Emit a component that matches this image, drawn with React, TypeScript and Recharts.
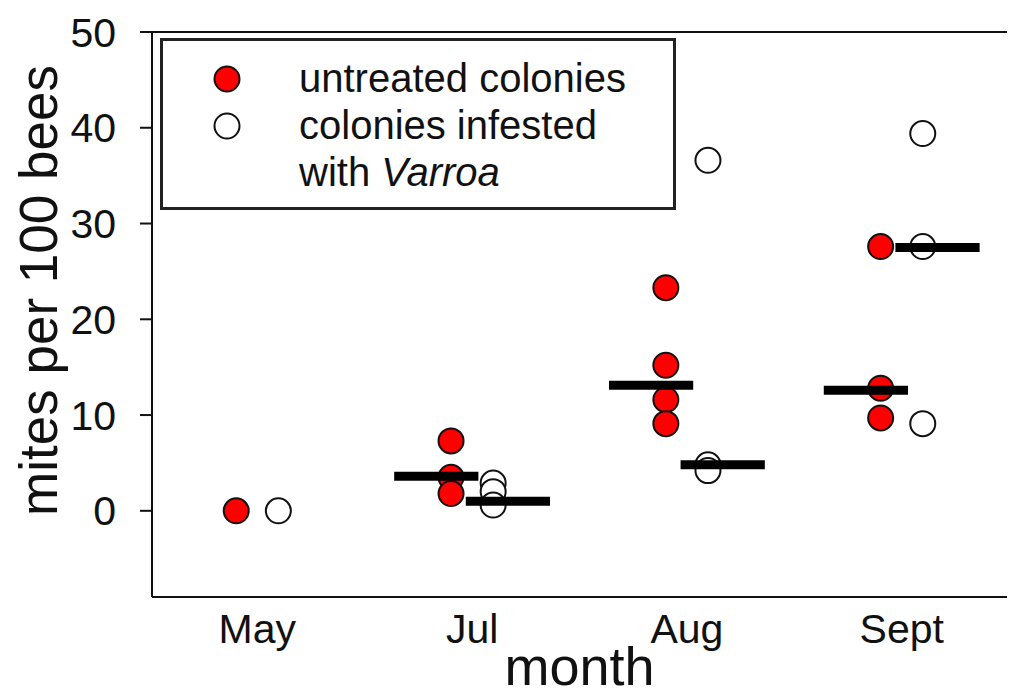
import React from 'react';
import {
  ScatterChart,
  Scatter,
  XAxis,
  YAxis,
  ReferenceLine,
  Legend,
  Label,
} from 'recharts';

// month groups and where they sit on the numeric x axis
const months = ['May', 'Jul', 'Aug', 'Sept'];
const groupPos = [1, 2.02, 3.04, 4.06];

// mites per 100 bees, one list per month
const untreated = [[0], [7.3, 3.5, 1.8], [23.3, 15.2, 11.6, 9.1], [27.6, 12.8, 9.7]];
const infested = [[0], [2.9, 2.0, 0.6], [36.6, 4.8, 4.2], [39.4, 27.6, 9.1]];

// medians (no bar drawn for May)
const untreatedMedian = [null, 3.6, 13.1, 12.6];
const infestedMedian = [null, 1.0, 4.8, 27.5];

const yTicks = [0, 10, 20, 30, 40, 50];
const yDomain = [-9, 50];

const FONT = '"Liberation Sans", Arial, sans-serif';
const PT_OFF = 0.1;
const BAR_OFF = 0.17;
const BAR_HALF = 0.2;

const toPoints = (groups: number[][], off: number) =>
  groups.flatMap((vals, i) => vals.map((v) => ({ x: groupPos[i] + off, y: v })));

const untreatedPts = toPoints(untreated, -PT_OFF);
const infestedPts = toPoints(infested, PT_OFF);

// each median becomes a short two-point segment
const medianSegs = (meds: (number | null)[], off: number) =>
  meds
    .map((m, i) =>
      m === null
        ? null
        : [
            { x: groupPos[i] + off - BAR_HALF, y: m },
            { x: groupPos[i] + off + BAR_HALF, y: m },
          ]
    )
    .filter(Boolean) as { x: number; y: number }[][];

const medians = [...medianSegs(untreatedMedian, -BAR_OFF), ...medianSegs(infestedMedian, BAR_OFF)];

const dot = (fill: string) => (props: any) => (
  <circle cx={props.cx} cy={props.cy} r={12.5} fill={fill} stroke="#111" strokeWidth={2} />
);

const LegendBox = () => (
  <div
    style={{
      boxSizing: 'border-box',
      width: 516,
      height: 172,
      border: '3px solid #222',
      background: '#fff',
      fontFamily: FONT,
      fontSize: 40,
      lineHeight: '47px',
      paddingTop: 14,
      color: '#111',
    }}
  >
    {[
      { fill: '#ff0000', lines: ['untreated colonies'] },
      { fill: '#ffffff', lines: ['colonies infested', 'with '] },
    ].map((item, idx) => (
      <div key={idx} style={{ display: 'flex', alignItems: 'flex-start' }}>
        <div style={{ width: 128, height: 47, display: 'flex', justifyContent: 'center', alignItems: 'center' }}>
          <svg width={30} height={30}>
            <circle cx={15} cy={15} r={12.5} fill={item.fill} stroke="#111" strokeWidth={2} />
          </svg>
        </div>
        <div style={{ marginLeft: 8 }}>
          {item.lines.map((l, j) => (
            <div key={j}>
              {l}
              {idx === 1 && j === 1 ? <i>Varroa</i> : null}
            </div>
          ))}
        </div>
      </div>
    ))}
  </div>
);

export default function App() {
  return (
    <div style={{ position: 'absolute', left: 0, top: 0, width: 1024, height: 697, background: '#fff' }}>
      <ScatterChart width={1024} height={697} margin={{ top: 32, right: 17, bottom: 0, left: 0 }}>
        <XAxis
          type="number"
          dataKey="x"
          domain={[0.5, 4.56]}
          ticks={groupPos}
          tickFormatter={(v: number) => months[groupPos.indexOf(v)] ?? ''}
          allowDataOverflow
          height={100}
          tickLine={false}
          tickMargin={11}
          axisLine={{ stroke: '#111', strokeWidth: 2 }}
          tick={{ fill: '#111', fontSize: 41, fontFamily: FONT }}
          interval={0}
        >
          <Label
            content={({ viewBox }: any) => (
              <text
                x={viewBox.x + viewBox.width / 2}
                y={viewBox.y + 88}
                textAnchor="middle"
                fontSize={54}
                fontFamily={FONT}
                fill="#111"
              >
                month
              </text>
            )}
          />
        </XAxis>
        <YAxis
          type="number"
          dataKey="y"
          domain={yDomain}
          ticks={yTicks}
          allowDataOverflow
          width={152}
          tickSize={12}
          tickMargin={24}
          tickLine={{ stroke: '#111', strokeWidth: 2 }}
          axisLine={{ stroke: '#111', strokeWidth: 2 }}
          tick={{ fill: '#111', fontSize: 41, fontFamily: FONT }}
        >
          <Label
            content={({ viewBox }: any) => {
              const cx = 38;
              const cy = viewBox.y + viewBox.height / 2 - 24;
              return (
                <text
                  x={cx}
                  y={cy}
                  transform={`rotate(-90 ${cx} ${cy})`}
                  textAnchor="middle"
                  dominantBaseline="central"
                  fontSize={53}
                  fontFamily={FONT}
                  fill="#111"
                >
                  mites per 100 bees
                </text>
              );
            }}
          />
        </YAxis>
        <YAxis
          yAxisId="right"
          type="number"
          orientation="right"
          domain={yDomain}
          width={0}
          tick={false}
          tickLine={false}
          axisLine={{ stroke: '#111', strokeWidth: 2 }}
        />
        {/* top edge of the plot frame */}
        <ReferenceLine y={50} stroke="#111" strokeWidth={2} />
        <Legend
          layout="vertical"
          align="center"
          verticalAlign="middle"
          wrapperStyle={{ left: 160, top: 38, width: 516, height: 172 }}
          content={() => <LegendBox />}
        />
        <Scatter
          name="colonies infested with Varroa"
          data={infestedPts}
          shape={dot('#ffffff')}
          isAnimationActive={false}
        />
        <Scatter
          name="untreated colonies"
          data={untreatedPts}
          shape={dot('#ff0000')}
          isAnimationActive={false}
        />
        {medians.map((seg, i) => (
          <Scatter
            key={`m${i}`}
            data={seg}
            line={{ stroke: '#000', strokeWidth: 9 }}
            shape={() => <g />}
            legendType="none"
            isAnimationActive={false}
          />
        ))}
      </ScatterChart>
    </div>
  );
}
